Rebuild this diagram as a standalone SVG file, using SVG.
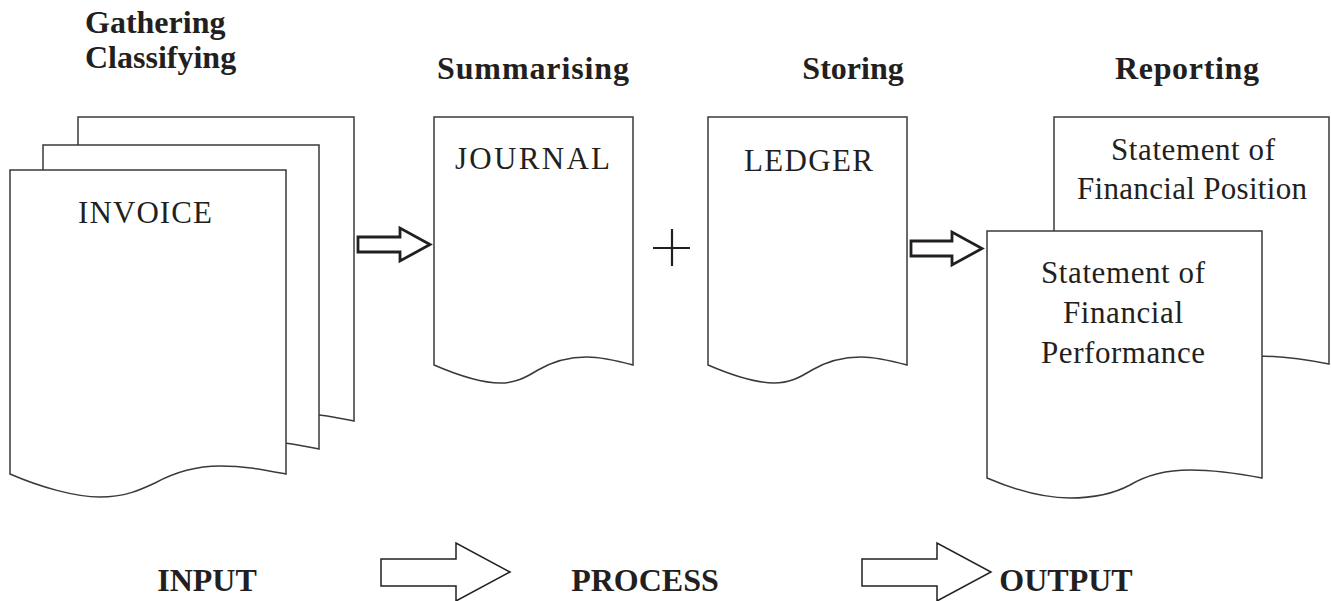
<svg xmlns="http://www.w3.org/2000/svg" xmlns:xlink="http://www.w3.org/1999/xlink" width="1331" height="601" viewBox="0 0 1331 601">
<style>
.page{fill:#fff;stroke:#3a3a3a;stroke-width:1.5;stroke-linejoin:miter}
.doc{font-family:"Liberation Serif","Times New Roman",serif;font-size:31px;fill:#231f20}
.st{font-size:31px;text-anchor:middle}
.head{font-family:"Liberation Serif","Times New Roman",serif;font-size:32px;font-weight:bold;fill:#231f20}
.foot{font-family:"Liberation Serif","Times New Roman",serif;font-size:32px;font-weight:bold;fill:#231f20;text-anchor:middle}
.arr{fill:#fff;stroke:#231f20;stroke-width:2.8;stroke-linejoin:miter}
.barr{fill:#fff;stroke:#231f20;stroke-width:1.5;stroke-linejoin:miter}
.plus{stroke:#231f20;stroke-width:2.2;fill:none}
</style>
<defs>
<path id="inv" d="M10,170 H286 V474 C265,470 245,466 220,466 C195,466 175,472 155,483 C140,490 125,497 100,497 C75,497 40,487 10,474 Z"/>
<path id="jl" d="M434,117 H633 V365 C618,361 603,357 587,357 C567,357 550,363 538,370 C525,378 515,383 500,383 C480,383 455,374 434,365 Z"/>
<path id="st" d="M987,231 H1262 V478 C1241,474 1215,470 1190,470 C1165,470 1145,476 1130,485 C1115,493 1095,498 1070,498 C1045,498 1015,490 987,478 Z"/>
</defs>

<g id="headings">
<text class="head" x="85" y="33">Gathering</text>
<text class="head" x="85" y="68">Classifying</text>
<text class="head" x="437" y="79" textLength="192" lengthAdjust="spacing">Summarising</text>
<text class="head" x="853" y="79" text-anchor="middle">Storing</text>
<text class="head" x="1115" y="79" textLength="144" lengthAdjust="spacing">Reporting</text>
</g>

<g id="invoice">
<use xlink:href="#inv" class="page" transform="translate(68,-53)"/>
<use xlink:href="#inv" class="page" transform="translate(33,-25)"/>
<use xlink:href="#inv" class="page"/>
<text class="doc" x="78" y="223" textLength="134" lengthAdjust="spacing">INVOICE</text>
</g>

<g id="journal">
<use xlink:href="#jl" class="page"/>
<text class="doc" x="455" y="169" textLength="155" lengthAdjust="spacing">JOURNAL</text>
</g>

<g id="plus">
<line class="plus" x1="653" y1="248" x2="690" y2="248"/>
<line class="plus" x1="672" y1="229" x2="672" y2="266"/>
</g>

<g id="ledger">
<use xlink:href="#jl" class="page" transform="translate(274,0)"/>
<text class="doc" x="744" y="171" textLength="129" lengthAdjust="spacing">LEDGER</text>
</g>

<g id="statements">
<use xlink:href="#st" class="page" transform="translate(67,-114)"/>
<text class="doc st" x="1193" y="160" textLength="164" lengthAdjust="spacing">Statement of</text>
<text class="doc st" x="1192" y="199" textLength="230" lengthAdjust="spacing">Financial Position</text>
<use xlink:href="#st" class="page"/>
<text class="doc st" x="1123" y="283" textLength="164" lengthAdjust="spacing">Statement of</text>
<text class="doc st" x="1123" y="323" textLength="120" lengthAdjust="spacing">Financial</text>
<text class="doc st" x="1123" y="363" textLength="164" lengthAdjust="spacing">Performance</text>
</g>

<g id="connectors">
<path class="arr" d="M358,237 H400 V228 L430,244.5 L400,261 V252 H358 Z"/>
<path class="arr" d="M911,241 H952 V232 L982,248.5 L952,265 V256 H911 Z"/>
<path class="barr" d="M381,559 H456 V543 L510,572 L456,601 V586 H381 Z"/>
<path class="barr" d="M862,559 H937 V543 L991,572 L937,601 V586 H862 Z"/>
</g>

<g id="labels">
<text class="foot" x="207" y="591">INPUT</text>
<text class="foot" x="645" y="591">PROCESS</text>
<text class="foot" x="1066" y="591">OUTPUT</text>
</g>
</svg>
